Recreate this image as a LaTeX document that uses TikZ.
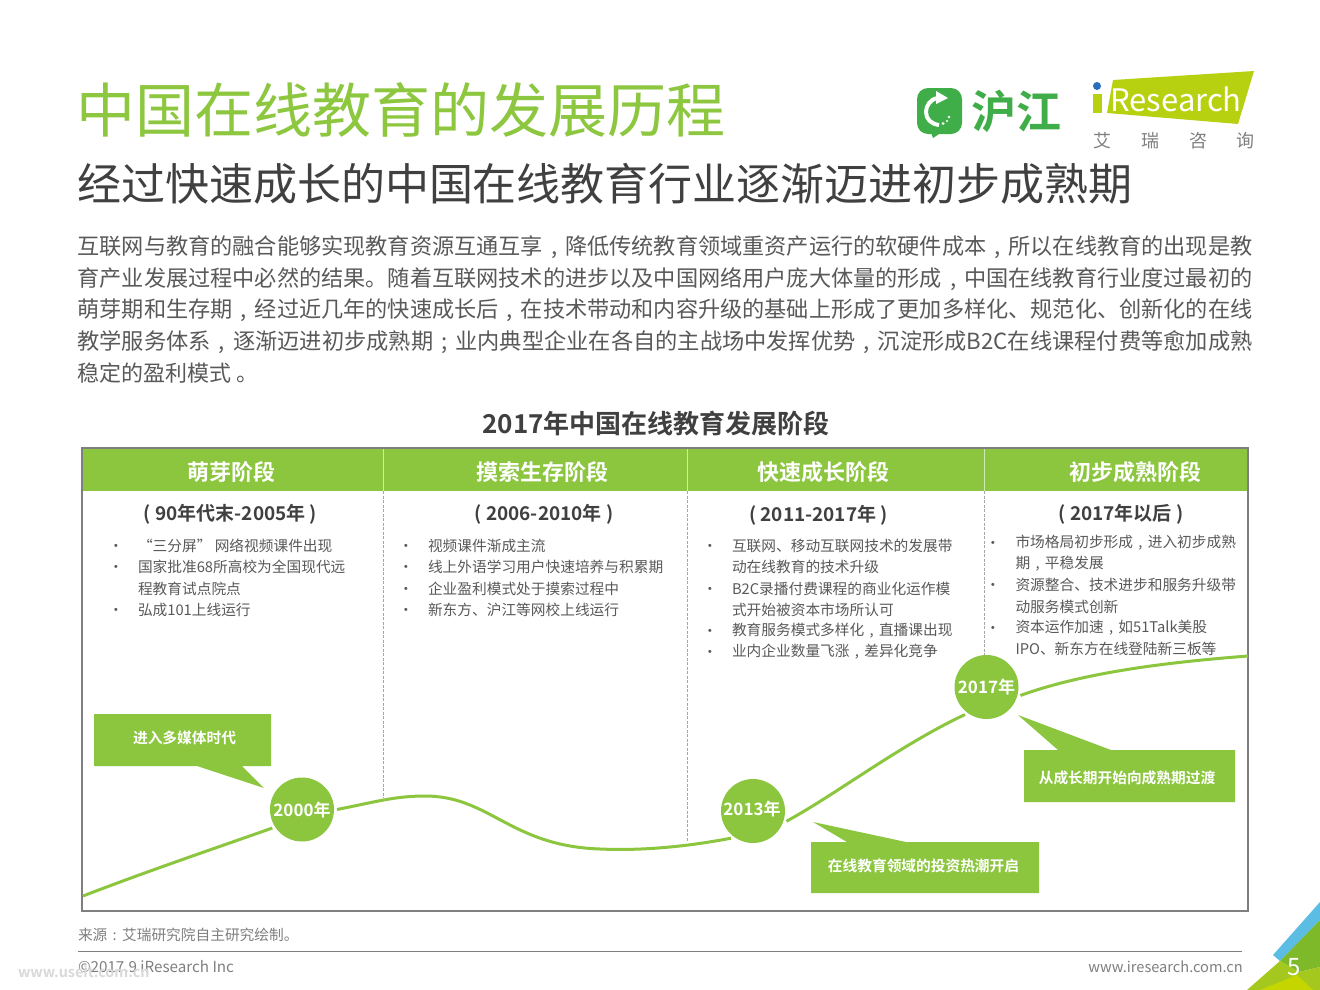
\documentclass[tikz,border=0pt]{standalone}
\usepackage{fontspec}
\usepackage{graphicx}
\setmainfont{Noto Sans CJK SC}[BoldFont={Noto Sans CJK SC Bold}]
\usetikzlibrary{calc}
\definecolor{igreen}{HTML}{8CC63F}
\definecolor{titlegreen}{HTML}{8DC73F}
\definecolor{bodygray}{HTML}{595959}
\definecolor{headgray}{HTML}{404040}
\definecolor{framegray}{HTML}{7F7F7F}
\definecolor{footgray}{HTML}{7F7F7F}
\definecolor{hjgreen}{HTML}{3FAE49}
\definecolor{irlime}{HTML}{B7D110}
\definecolor{irblue}{HTML}{2A6EBB}
\definecolor{cblue}{HTML}{5BBCE4}
\definecolor{cgreen}{HTML}{7DB928}
\definecolor{clime}{HTML}{A5C81E}
\definecolor{cyellow}{HTML}{C4D500}
\newcommand{\fs}[1]{\fontsize{#1pt}{#1pt}\selectfont}
\newcommand{\cm}{\makebox[1em][c]{,}}
\newcommand{\sm}{\makebox[1em][c]{;}}
\newcommand{\cl}{\makebox[1em][c]{:}}
\newcommand{\bl}[1]{\resizebox{1175pt}{!}{#1}}
\tikzset{
  x=1pt,y=-1pt,
  txt/.style={inner sep=0pt,outer sep=0pt,anchor=west},
  ttl/.style={txt,font=\fs{59},text=titlegreen},
  subttl/.style={txt,font=\fs{44},text=headgray},
  body/.style={txt,font=\fs{22},text=bodygray},
  charttitle/.style={inner sep=0pt,font=\bfseries\fs{26},text=headgray},
  hdr/.style={inner sep=0pt,font=\bfseries\fs{22},text=white},
  period/.style={inner sep=0pt,font=\bfseries\fs{19},text=headgray},
  item/.style={txt,font=\fs{14.7},text=bodygray},
  dotmark/.style={inner sep=0pt,font=\fs{14.7},text=bodygray},
  year/.style={circle,fill=igreen,minimum size=64pt,inner sep=0pt,outer sep=3pt,font=\bfseries\fs{17},text=white},
  curve/.style={draw=igreen,line width=3pt},
  calltxt/.style={inner sep=0pt,font=\bfseries\fs{14.7},text=white},
  sepline/.style={draw=gray!70,line width=.7pt,dash pattern=on 3pt off 1.5pt},
  foot/.style={txt,font=\fs{14.7},text=footgray},
}
\begin{document}
\begin{tikzpicture}
\useasboundingbox (0,0) rectangle (1320,990);
\fill[white] (0,0) rectangle (1320,990);
% titles
\node[ttl] (title) at (76.5,110) {中国在线教育的发展历程};
\node[subttl] (subtitle) at (77,184) {经过快速成长的中国在线教育行业逐渐迈进初步成熟期};
\node[body] (b1) at (77.5,247) {\bl{互联网与教育的融合能够实现教育资源互通互享\cm 降低传统教育领域重资产运行的软硬件成本\cm 所以在线教育的出现是教}};
\node[body] (b2) at (77.5,279) {\bl{育产业发展过程中必然的结果。随着互联网技术的进步以及中国网络用户庞大体量的形成\cm 中国在线教育行业度过最初的}};
\node[body] (b3) at (77.5,310) {\bl{萌芽期和生存期\cm 经过近几年的快速成长后\cm 在技术带动和内容升级的基础上形成了更加多样化、规范化、创新化的在线}};
\node[body] (b4) at (77.5,342) {\bl{教学服务体系\cm 逐渐迈进初步成熟期\sm 业内典型企业在各自的主战场中发挥优势\cm 沉淀形成B2C在线课程付费等愈加成熟}};
\node[body] (b5) at (77.5,373) {稳定的盈利模式 。};
% logos
\fill[hjgreen,rounded corners=11pt] (917,88) rectangle (962,134);
\fill[hjgreen] (930,130) -- (945,130) -- (933,138) -- cycle;
\draw[white,line width=4pt] (938,98) .. controls (930,99) and (926,106) .. (926,112) .. controls (926,119) and (931,124) .. (939,125);
\fill[white] (936,91) -- (948,98) -- (936,104) -- cycle;
\fill[white] (949,117) circle (1.4) (947,121) circle (1.2) (943,123.5) circle (1.5);
\node[inner sep=0pt,font=\bfseries\fs{45},text=hjgreen] (hj) at (1016,111) {沪江};
\fill[irlime] (1113,80) -- (1254,71) -- (1238,124) -- (1107,113) -- cycle;
\fill[irlime] (1093,94) -- (1102,94) -- (1102,113) -- (1093,113) -- cycle;
\fill[irblue] (1097,86) circle (4);
\node[inner sep=0pt,font=\fs{31},text=white] (res) at (1176,99) {Research};
\foreach \nn/\xx/\cc in {a/1102/艾,b/1150/瑞,c/1198/咨,d/1245/询}
  \node[inner sep=0pt,font=\fs{18},text=footgray] (ir\nn) at (\xx,140.5) {\cc};
% chart
\node[charttitle] (ct) at (656,424) {2017年中国在线教育发展阶段};
\fill[igreen] (82,448) rectangle (1248,491);
\foreach \xx in {383,687,984} \draw[white!60!igreen,line width=.8pt] (\xx,449) -- (\xx,491);
\draw[framegray,line width=2pt] (82,448) rectangle (1248,911);
\node[hdr] (h1) at (231,472) {萌芽阶段};
\node[hdr] (h2) at (542,472) {摸索生存阶段};
\node[hdr] (h3) at (823,472) {快速成长阶段};
\node[hdr] (h4) at (1135,472) {初步成熟阶段};
\coordinate (s1t) at (383,491); \coordinate (s1b) at (383,798);
\coordinate (s2t) at (687,491); \coordinate (s2b) at (687,842);
\coordinate (s3t) at (984,491); \coordinate (s3b) at (984,655);
\draw[sepline] (s1t) -- (s1b);
\draw[sepline] (s2t) -- (s2b);
\draw[sepline] (s3t) -- (s3b);
\node[period] (p1) at (230.5,514) {( 90年代末-2005年 )};
\node[period] (p2) at (544,514) {( 2006-2010年 )};
\node[period] (p3) at (818.5,515) {( 2011-2017年 )};
\node[period] (p4) at (1121,514) {( 2017年以后 )};
% col 1
\node[dotmark] (d11) at (116,548) {•};
\node[item] (t11) at (138,546) {“三分屏” 网络视频课件出现};
\node[dotmark] (d12) at (116,569) {•};
\node[item] (t12) at (138,567) {国家批准68所高校为全国现代远};
\node[item] (t13) at (138,589) {程教育试点院点};
\node[dotmark] (d14) at (116,612) {•};
\node[item] (t14) at (138,610) {弘成101上线运行};
% col 2
\node[dotmark] (d21) at (406,548) {•};
\node[item] (t21) at (428,546) {视频课件渐成主流};
\node[dotmark] (d22) at (406,569) {•};
\node[item] (t22) at (428,567) {线上外语学习用户快速培养与积累期};
\node[dotmark] (d23) at (406,591) {•};
\node[item] (t23) at (428,589) {企业盈利模式处于摸索过程中};
\node[dotmark] (d24) at (406,612) {•};
\node[item] (t24) at (428,610) {新东方、沪江等网校上线运行};
% col 3
\node[dotmark] (d31) at (710,548) {•};
\node[item] (t31) at (732,546) {互联网、移动互联网技术的发展带};
\node[item] (t32) at (732,567) {动在线教育的技术升级};
\node[dotmark] (d33) at (710,591) {•};
\node[item] (t33) at (732,589) {B2C录播付费课程的商业化运作模};
\node[item] (t34) at (732,610) {式开始被资本市场所认可};
\node[dotmark] (d35) at (710,633) {•};
\node[item] (t35) at (732,631) {教育服务模式多样化\cm 直播课出现};
\node[dotmark] (d36) at (710,654) {•};
\node[item] (t36) at (732,652) {业内企业数量飞涨\cm 差异化竞争};
% col 4
\node[dotmark] (d41) at (993,545) {•};
\node[item] (t41) at (1015.5,543) {市场格局初步形成\cm 进入初步成熟};
\node[item] (t42) at (1015.5,564) {期\cm 平稳发展};
\node[dotmark] (d43) at (993,587) {•};
\node[item] (t43) at (1015.5,585) {资源整合、技术进步和服务升级带};
\node[item] (t44) at (1015.5,607) {动服务模式创新};
\node[dotmark] (d45) at (993,630) {•};
\node[item] (t45) at (1015.5,628) {资本运作加速\cm 如51Talk美股};
\node[item] (t46) at (1015.5,649) {IPO、新东方在线登陆新三板等};
% year circles
\node[year] (y2000) at (302,809.5) {2000年};
\node[year] (y2013) at (753,811) {};
\node[inner sep=0pt,font=\bfseries\fs{17},text=white] (y2013t) at (752,809) {2013年};
\node[year] (y2017) at (986.5,687) {2017年};
% curve
\coordinate (cs) at (83,896);
\coordinate (cp1) at (425,796);
\coordinate (cp2) at (600,849);
\coordinate (ce) at (1248,656);
\draw[curve] (cs) .. controls (145,872) and (210,850) .. (y2000.212);
\draw[curve] (y2000.0) .. controls (375,802) and (395,796) .. (cp1);
\draw[curve] (cp1) .. controls (490,796) and (510,846) .. (cp2);
\draw[curve] (cp2) .. controls (645,851) and (690,846) .. (y2013.231);
\draw[curve] (y2013.-17) .. controls (835,795) and (900,745) .. (y2017.232);
\draw[curve] (y2017.-14) .. controls (1085,672) and (1170,662) .. (ce);
% callouts
\fill[igreen] (94,714) -- (271,714) -- (271,766) -- (242,766) -- (264,788) -- (197,766) -- (94,766) -- cycle;
\node[calltxt] (c1) at (184.5,738) {进入多媒体时代};
\fill[igreen] (811,842) -- (847,842) -- (813,822) -- (906,842) -- (1039,842) -- (1039,893) -- (811,893) -- cycle;
\node[calltxt] (c2) at (923.5,866) {在线教育领域的投资热潮开启};
\fill[igreen] (1024,750) -- (1058,750) -- (1018,715) -- (1111,750) -- (1235,750) -- (1235,802) -- (1024,802) -- cycle;
\node[calltxt] (c3) at (1127,778) {从成长期开始向成熟期过渡};
% footer
\node[foot] (src) at (78,934.5) {来源\cl 艾瑞研究院自主研究绘制。};
\coordinate (fl) at (78,951); \coordinate (fr) at (1242,951);
\draw[footgray,line width=1pt] (fl) -- (fr);
\node[txt,font=\fs{15.2},text=footgray] (copy) at (78,967) {©2017.9 iResearch Inc};
\node[inner sep=0pt,anchor=east,font=\fs{14.6},text=footgray] (web) at (1243,967) {www.iresearch.com.cn};
\node[txt,font=\bfseries\fs{14.4},text=gray!30] (wm) at (18,972) {www.useit.com.cn};
% corner
\fill[cblue] (1320,902) -- (1273,955) -- (1280,961) -- (1320,920) -- cycle;
\fill[cgreen] (1320,920) -- (1280,961) -- (1299,972) -- (1320,967) -- cycle;
\fill[clime] (1280,961) -- (1247,990) -- (1320,990) -- (1320,967) -- (1299,972) -- cycle;
\fill[cyellow] (1260,990) -- (1297,975) -- (1313,990) -- cycle;
\node[inner sep=0pt,font=\fs{24},text=white] (pg) at (1294,967) {5};
\end{tikzpicture}
\end{document}
